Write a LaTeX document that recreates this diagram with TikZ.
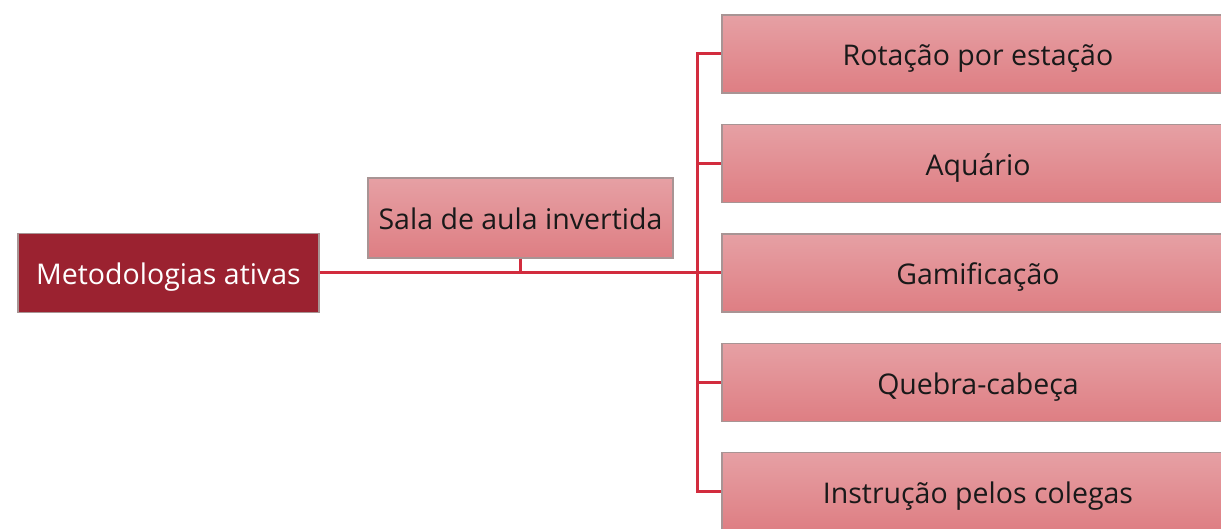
\documentclass[tikz,border=0pt]{standalone}
\usepackage{fontspec}
\setmainfont{Open Sans}
\definecolor{linered}{HTML}{D22C3E}
\definecolor{mainred}{HTML}{9B2230}
\definecolor{boxtop}{HTML}{E6A0A4}
\definecolor{boxbot}{HTML}{DE7E83}
\definecolor{boxedge}{HTML}{A89494}
\tikzset{
  leaf/.style={draw=boxedge, line width=1.5pt, top color=boxtop, bottom color=boxbot,
    minimum height=78pt, inner sep=0pt, text height=30pt, text depth=6pt,
    font=\fontsize{28.5}{33}\selectfont, text=black!90},
  rootbox/.style={draw=boxedge, line width=1.5pt, fill=mainred, minimum width=301pt,
    minimum height=79pt, inner sep=0pt, text height=30pt, text depth=6pt,
    font=\fontsize{28.5}{33}\selectfont, text=white},
  conn/.style={draw=linered, line width=3pt}
}
\begin{document}
\begin{tikzpicture}[x=1pt,y=-1pt]
\useasboundingbox (0,0) rectangle (1221,529);
\clip (0,0) rectangle (1221,529);
\fill[white] (0,0) rectangle (1221,529);
\node[rootbox] (main) at (168.5,273) {Metodologias ativas};
\node[leaf, minimum width=305pt, minimum height=80pt] (sala) at (520.5,218) {Sala de aula invertida};
\node[leaf, minimum width=512pt] (b1) at (978,54) {Rotação por estação};
\node[leaf, minimum width=512pt] (b2) at (978,163.5) {Aquário};
\node[leaf, minimum width=512pt] (b3) at (978,273) {Gamificação};
\node[leaf, minimum width=512pt] (b4) at (978,382.5) {Quebra-cabeça};
\node[leaf, minimum width=512pt] (b5) at (978,491.5) {Instrução pelos colegas};
\coordinate (bus) at (697,273);
\draw[conn] (main.east) -- (b3.west);
\draw[conn] (sala.south) -- (sala.south |- main.east);
\draw[conn] (b1.west) -| (bus) |- (b5.west);
\draw[conn] (b2.west) -- (b2.west -| bus);
\draw[conn] (b4.west) -- (b4.west -| bus);
\end{tikzpicture}
\end{document}
